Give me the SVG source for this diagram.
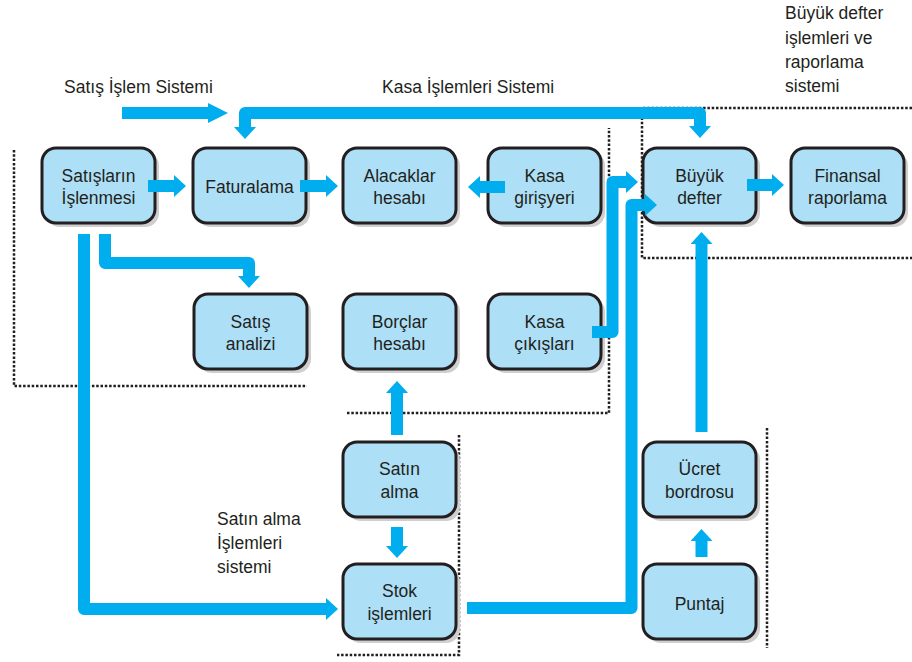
<svg xmlns="http://www.w3.org/2000/svg" width="912" height="662" viewBox="0 0 912 662">
<style>
.box{fill:#addff7;stroke:#231f20;stroke-width:3}
.sh{fill:#cfcfcf}
.t{font-family:"Liberation Sans",Arial,sans-serif;font-size:17.5px;fill:#231f20;text-anchor:middle}
.l{font-family:"Liberation Sans",Arial,sans-serif;font-size:17.5px;fill:#231f20}
.c{fill:none;stroke:#00adef;stroke-width:12;stroke-linejoin:round}
.d{fill:none;stroke:#231f20;stroke-width:2.5;stroke-dasharray:2.5 1.8}
</style>
<defs>
<marker id="ah" markerUnits="userSpaceOnUse" viewBox="0 0 12 22" refX="0" refY="11" markerWidth="12" markerHeight="22" orient="auto-start-reverse">
<path d="M0,0 L12,11 L0,22 Z" fill="#00adef"/>
</marker>
<marker id="ahl" markerUnits="userSpaceOnUse" viewBox="0 0 20 20" refX="0" refY="10" markerWidth="20" markerHeight="20" orient="auto">
<path d="M0,0 L20,10 L0,20 Z" fill="#00adef"/>
</marker>
</defs>
<rect width="912" height="662" fill="#fff"/>
<g id="boundaries">
<path class="d" d="M14,150 V386 H307"/>
<path class="d" d="M347,413 H609 V128"/>
<path class="d" d="M912,108 H642 V258 H912"/>
<path class="d" d="M459,435 V655 H337"/>
<path class="d" d="M767,428 V648"/>
</g>
<g id="labels">
<text class="l" x="64" y="93">Satış İşlem Sistemi</text>
<text class="l" x="382" y="93">Kasa İşlemleri Sistemi</text>
<text class="l" x="785" y="19">Büyük defter</text>
<text class="l" x="785" y="44">işlemleri ve</text>
<text class="l" x="785" y="68">raporlama</text>
<text class="l" x="785" y="92">sistemi</text>
<text class="l" x="217" y="525">Satın alma</text>
<text class="l" x="217" y="549">İşlemleri</text>
<text class="l" x="217" y="573">sistemi</text>
</g>
<g id="n-satislarin"><rect class="sh" x="46" y="152" width="113" height="75" rx="14"/><rect class="box" x="42" y="148" width="113" height="75" rx="14"/><text class="t" x="98.5" y="182">Satışların</text><text class="t" x="98.5" y="204">İşlenmesi</text></g>
<g id="n-faturalama"><rect class="sh" x="197" y="152" width="113" height="75" rx="14"/><rect class="box" x="193" y="148" width="113" height="75" rx="14"/><text class="t" x="249.5" y="193">Faturalama</text></g>
<g id="n-alacaklar"><rect class="sh" x="347" y="152" width="113" height="75" rx="14"/><rect class="box" x="343" y="148" width="113" height="75" rx="14"/><text class="t" x="399.5" y="182">Alacaklar</text><text class="t" x="399.5" y="204">hesabı</text></g>
<g id="n-kasagiris"><rect class="sh" x="492" y="152" width="113" height="75" rx="14"/><rect class="box" x="488" y="148" width="113" height="75" rx="14"/><text class="t" x="544.5" y="182">Kasa</text><text class="t" x="544.5" y="204">girişyeri</text></g>
<g id="n-buyukdefter"><rect class="sh" x="647" y="152" width="113" height="75" rx="14"/><rect class="box" x="643" y="148" width="113" height="75" rx="14"/><text class="t" x="699.5" y="182">Büyük</text><text class="t" x="699.5" y="204">defter</text></g>
<g id="n-finansal"><rect class="sh" x="795" y="152" width="113" height="75" rx="14"/><rect class="box" x="791" y="148" width="113" height="75" rx="14"/><text class="t" x="847.5" y="182">Finansal</text><text class="t" x="847.5" y="204">raporlama</text></g>
<g id="n-satisanalizi"><rect class="sh" x="198" y="298" width="113" height="75" rx="14"/><rect class="box" x="194" y="294" width="113" height="75" rx="14"/><text class="t" x="250.5" y="328">Satış</text><text class="t" x="250.5" y="350">analizi</text></g>
<g id="n-borclar"><rect class="sh" x="347" y="298" width="113" height="75" rx="14"/><rect class="box" x="343" y="294" width="113" height="75" rx="14"/><text class="t" x="399.5" y="328">Borçlar</text><text class="t" x="399.5" y="350">hesabı</text></g>
<g id="n-kasacikis"><rect class="sh" x="492" y="298" width="113" height="75" rx="14"/><rect class="box" x="488" y="294" width="113" height="75" rx="14"/><text class="t" x="544.5" y="328">Kasa</text><text class="t" x="544.5" y="350">çıkışları</text></g>
<g id="n-satinalma"><rect class="sh" x="347" y="446" width="113" height="75" rx="14"/><rect class="box" x="343" y="442" width="113" height="75" rx="14"/><text class="t" x="399.5" y="475">Satın</text><text class="t" x="399.5" y="498">alma</text></g>
<g id="n-stok"><rect class="sh" x="347" y="568" width="113" height="75" rx="14"/><rect class="box" x="343" y="564" width="113" height="75" rx="14"/><text class="t" x="399.5" y="597">Stok</text><text class="t" x="399.5" y="620">işlemleri</text></g>
<g id="n-ucret"><rect class="sh" x="647" y="446" width="113" height="75" rx="14"/><rect class="box" x="643" y="442" width="113" height="75" rx="14"/><text class="t" x="699.5" y="475">Ücret</text><text class="t" x="699.5" y="498">bordrosu</text></g>
<g id="n-puntaj"><rect class="sh" x="647" y="568" width="113" height="75" rx="14"/><rect class="box" x="643" y="564" width="113" height="75" rx="14"/><text class="t" x="699.5" y="610">Puntaj</text></g>
<g id="connectors">
<path class="c" d="M122,113 H208" marker-end="url(#ahl)"/>
<path class="c" d="M245,127 V113 H700 V126" marker-start="url(#ah)" marker-end="url(#ah)"/>
<path class="c" d="M148,186 H174" marker-end="url(#ah)"/>
<path class="c" d="M300,186 H326" marker-end="url(#ah)"/>
<path class="c" d="M505,187 H480" marker-end="url(#ah)"/>
<path class="c" d="M747,185 H772" marker-end="url(#ah)"/>
<path class="c" d="M105,234 V263 H249 V276" marker-end="url(#ah)"/>
<path class="c" d="M84,234 V609 H326" marker-end="url(#ah)"/>
<path class="c" d="M397,435 V393" marker-end="url(#ah)"/>
<path class="c" d="M397,527 V546" marker-end="url(#ah)"/>
<path class="c" d="M467,608 H631.5 V205 H645" marker-end="url(#ah)"/>
<path class="c" d="M592,332 H612.5 V182 H626" marker-end="url(#ah)"/>
<path class="c" d="M701.5,432 V244" marker-end="url(#ah)"/>
<path class="c" d="M701.5,557 V541" marker-end="url(#ah)"/>
</g>
</svg>
